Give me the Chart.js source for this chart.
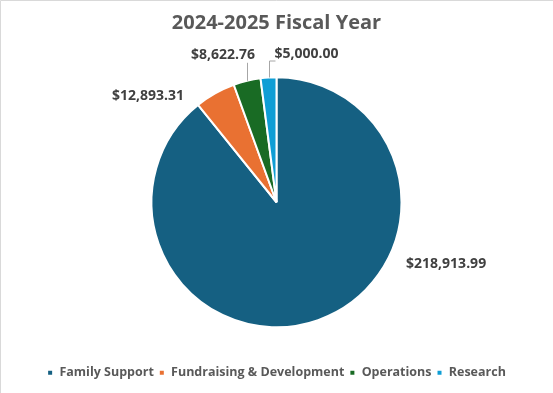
<!DOCTYPE html>
<html>
<head>
<meta charset="utf-8">
<script src="https://cdn.jsdelivr.net/npm/chart.js@4.4.1/dist/chart.umd.min.js"></script>
<style>
  body { margin: 0; background: #ffffff; }
  canvas { display: block; }
</style>
</head>
<body>
<canvas id="myChart" width="553" height="393"></canvas>
<script>
const categories = ['Family Support', 'Fundraising & Development', 'Operations', 'Research'];
const amounts = [218913.99, 12893.31, 8622.76, 5000.00];
const sliceColors = ['#156082', '#E97132', '#196B24', '#0F9ED5'];
const chartTitle = '2024-2025 Fiscal Year';

// где ставить подписи относительно середины внешней дуги сектора
const labelPlacement = [
    { dx: 128, dy: -56, leader: null },
    { dx: -67, dy: 3, leader: null },
    { dx: -24, dy: -26, leader: 'up' },
    { dx: 38, dy: -23, leader: 'upRight' }
];

const fontFamily = '"Open Sans", "Liberation Sans", sans-serif';

function formatMoney(v) {
    return '$' + v.toLocaleString('en-US', { minimumFractionDigits: 2, maximumFractionDigits: 2 });
}

// фон и рамка
const frame = {
    id: 'frame',
    beforeDraw(chart) {
        const ctx = chart.ctx;
        ctx.save();
        ctx.fillStyle = '#ffffff';
        ctx.fillRect(0, 0, chart.width, chart.height);
        ctx.strokeStyle = '#d9d9d9';
        ctx.lineWidth = 1;
        ctx.beginPath();
        ctx.moveTo(0.5, chart.height);
        ctx.lineTo(0.5, 0.5);
        ctx.lineTo(chart.width, 0.5);
        ctx.stroke();
        ctx.restore();
    }
};

// подписи значений с выносками
const sliceLabels = {
    id: 'sliceLabels',
    afterDatasetsDraw(chart) {
        const ctx = chart.ctx;
        const arcs = chart.getDatasetMeta(0).data;
        ctx.save();
        ctx.font = 'bold 14px ' + fontFamily;
        ctx.textAlign = 'center';
        ctx.textBaseline = 'middle';
        arcs.forEach((arc, i) => {
            const p = arc.getProps(['x', 'y', 'startAngle', 'endAngle', 'outerRadius'], true);
            const mid = (p.startAngle + p.endAngle) / 2;
            const ex = p.x + Math.cos(mid) * p.outerRadius;
            const ey = p.y + Math.sin(mid) * p.outerRadius;
            const place = labelPlacement[i];
            const lx = ex + place.dx;
            const ly = ey + place.dy;
            if (place.leader) {
                ctx.strokeStyle = '#a6a6a6';
                ctx.lineWidth = 1;
                ctx.beginPath();
                const sx = Math.round(ex) + 0.5;
                ctx.moveTo(sx, ey);
                if (place.leader === 'up') {
                    ctx.lineTo(sx, ly + 8);
                } else {
                    ctx.lineTo(sx, ly + 6.5);
                    ctx.lineTo(sx + 6, ly + 6.5);
                }
                ctx.stroke();
            }
            ctx.fillStyle = '#404040';
            ctx.fillText(formatMoney(amounts[i]), lx, ly);
        });
        ctx.restore();
    }
};

new Chart(document.getElementById('myChart'), {
    type: 'pie',
    data: {
        labels: categories,
        datasets: [{
            data: amounts,
            backgroundColor: sliceColors,
            borderColor: '#ffffff',
            borderWidth: 2
        }]
    },
    options: {
        responsive: false,
        animation: false,
        radius: 125,
        layout: { padding: { bottom: 4 } },
        plugins: {
            title: {
                display: true,
                text: chartTitle,
                color: '#595959',
                font: { family: fontFamily, size: 20, weight: 'bold' },
                padding: { top: 11, bottom: 8 }
            },
            legend: {
                position: 'bottom',
                labels: {
                    color: '#595959',
                    boxWidth: 6,
                    boxHeight: 6,
                    padding: 5,
                    font: { family: fontFamily, size: 12.5, weight: 'bold' }
                }
            },
            tooltip: { enabled: false }
        }
    },
    plugins: [frame, sliceLabels]
});
</script>
</body>
</html>
